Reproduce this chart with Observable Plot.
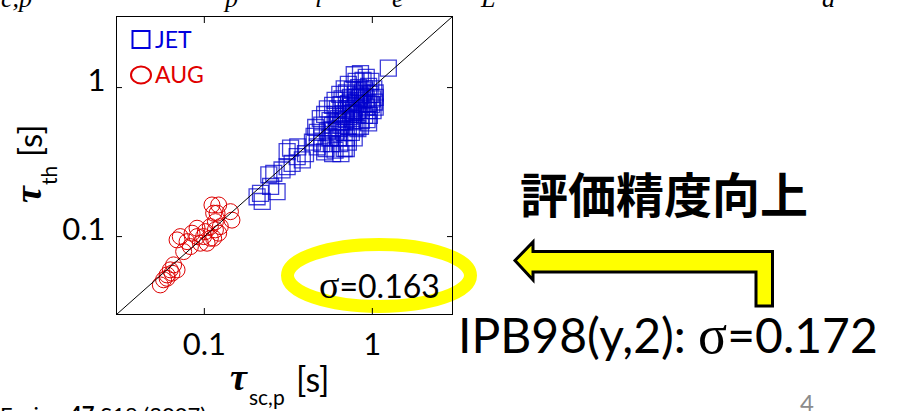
<!DOCTYPE html>
<html><head><meta charset="utf-8">
<script src="https://cdn.jsdelivr.net/npm/d3@7"></script>
<script src="https://cdn.jsdelivr.net/npm/@observablehq/plot@0.6"></script>
<style>
html,body{margin:0;padding:0;background:#fff;overflow:hidden}
#wrap{position:relative;width:901px;height:411px;overflow:hidden;font-family:Lato,sans-serif}
#wrap svg{position:absolute;left:0;top:0}
</style></head><body><div id="wrap"></div>
<script>
// ---- data (seconds) ----
const jetScaling = [0.78,0.85,0.92,0.98,0.88,0.80,0.72,0.95,1.02,0.90,0.83,0.76,0.68,1.04,0.97,0.87,0.79,0.70,0.64,1.04,1.00,0.92,0.84,0.74,0.66,0.60,1.03,0.99,0.95,0.88,0.80,0.72,0.65,0.58,0.54,0.62,0.70,0.78,0.86,0.94,1.01,1.04,0.96,0.90,0.82,0.74,0.67,0.60,0.52,0.49,0.56,0.63,0.70,0.78,0.86,0.93,0.95,0.85,0.80,0.72,0.65,0.58,0.50,0.46,0.47,0.54,0.61,0.68,0.75,0.82,0.78,0.70,0.63,0.56,0.50,0.45,0.44,0.50,0.57,0.64,0.72,0.68,0.60,0.53,0.47,0.58,0.65,0.52,0.70,0.70,0.75,0.68,0.62,0.85,0.90,0.76,0.82,0.58,0.66,0.74,0.80,0.88,0.92,0.77,0.64,
  0.206,0.221,0.216,0.248,0.271,0.242,0.259,0.29,0.311,0.333,0.326,0.357,0.383,0.311,0.36,0.40,1.245];
const jetTauTh = [1.22,1.24,1.17,1.10,1.12,1.10,1.05,1.02,0.98,0.98,1.00,0.97,0.98,0.92,0.90,0.92,0.90,0.92,0.90,0.86,0.84,0.84,0.85,0.86,0.84,0.82,0.80,0.77,0.78,0.78,0.80,0.78,0.77,0.76,0.72,0.72,0.72,0.73,0.72,0.70,0.70,0.74,0.65,0.65,0.66,0.66,0.67,0.66,0.66,0.62,0.60,0.62,0.61,0.60,0.60,0.61,0.58,0.55,0.54,0.55,0.56,0.56,0.56,0.54,0.50,0.51,0.51,0.50,0.50,0.53,0.46,0.46,0.46,0.46,0.46,0.47,0.43,0.42,0.42,0.42,0.43,0.39,0.38,0.39,0.40,0.36,0.36,0.37,0.39,0.70,0.75,0.64,0.58,0.88,0.95,0.62,0.70,0.52,0.59,0.80,0.86,0.82,0.74,0.68,0.53,
  0.185,0.172,0.195,0.217,0.200,0.26,0.266,0.28,0.295,0.31,0.392,0.344,0.327,0.372,0.40,0.36,1.35];
const augScaling = [0.1217,0.111,0.143,0.146,0.1136,0.119,0.1164,0.1086,0.1014,0.1164,0.1217,0.1245,0.0905,0.0845,0.0719,0.0688,0.0789,0.0905,0.0947,0.1038,0.1086,0.1136,0.099,0.0753,0.0826,0.0656,0.0627,0.060,0.0642,0.0688,0.0572,0.0547,0.060];
const augTauTh = [0.163,0.163,0.147,0.129,0.1436,0.1436,0.126,0.1167,0.108,0.111,0.1054,0.1167,0.1138,0.1054,0.100,0.095,0.0925,0.100,0.0903,0.0903,0.0975,0.0975,0.100,0.0793,0.0857,0.0646,0.0598,0.0553,0.0568,0.0598,0.0513,0.0474,0.0525];
const tickValues = [0.1, 1];
const tickLabels = ["0.1", "1"];
const axisDomain = [0.03, 3];
const unityLine = [0.03, 3];

const jet = jetScaling.map((x, i) => ({x, y: jetTauTh[i]}));
const aug = augScaling.map((x, i) => ({x, y: augTauTh[i]}));
const fmt = d => tickLabels[tickValues.indexOf(d)];
const blank = () => "";

const wrap = document.getElementById("wrap");

// back layer: yellow highlight ellipse
wrap.insertAdjacentHTML("beforeend", `<svg width="901" height="411">
  <ellipse cx="379" cy="275.5" rx="91.5" ry="31" fill="none" stroke="#ffff00" stroke-width="13"/>
</svg>`);

const plot = Plot.plot({
  width: 901, height: 411,
  marginLeft: 116, marginRight: 449, marginTop: 16, marginBottom: 97,
  style: {background: "transparent", fontFamily: "Lato", color: "black", overflow: "visible"},
  x: {type: "log", domain: axisDomain},
  y: {type: "log", domain: axisDomain},
  marks: [
    Plot.dot(aug, {x: "x", y: "y", r: 8, stroke: "#dd0000", strokeWidth: 1, fill: "none"}),
    Plot.dot(jet, {x: "x", y: "y", symbol: "square", r: 9, stroke: "#0000cc", strokeOpacity: 0.75, strokeWidth: 1.3, fill: "none"}),
    Plot.line(unityLine, {x: d => d, y: d => d, stroke: "black", strokeWidth: 1}),
    Plot.axisX(tickValues, {anchor: "bottom", tickSize: 0, tickPadding: 18, tickFormat: fmt, label: null, fontSize: 31}),
    Plot.axisX(tickValues, {anchor: "bottom", tickSize: -6, tickFormat: blank, label: null}),
    Plot.axisX(tickValues, {anchor: "top", tickSize: -6, tickFormat: blank, label: null}),
    Plot.axisY(tickValues, {anchor: "left", tickSize: 0, tickPadding: 11, dy: -7, tickFormat: fmt, label: null, fontSize: 31}),
    Plot.axisY(tickValues, {anchor: "left", tickSize: -6, tickFormat: blank, label: null}),
    Plot.axisY(tickValues, {anchor: "right", tickSize: -6, tickFormat: blank, label: null}),
    Plot.frame({stroke: "black"})
  ]
});
wrap.appendChild(plot);

// front layer: texts, legend, arrow
wrap.insertAdjacentHTML("beforeend", `<svg width="901" height="411">
  <g font-family="Liberation Serif" font-style="italic" font-size="26" fill="#000">
    <text x="1" y="7">c,p</text>
    <text x="225" y="7">p</text>
    <text x="315" y="7">i</text>
    <text x="392" y="7">e</text>
    <text x="481" y="7">L</text>
    <text x="822" y="7">a</text>
  </g>
  <rect x="132.5" y="31" width="17" height="17" fill="none" stroke="#0000dd" stroke-width="2"/>
  <text x="155" y="48" font-family="Lato" font-size="23" fill="#0000dd">JET</text>
  <ellipse cx="141" cy="75" rx="10" ry="8.5" fill="none" stroke="#e00000" stroke-width="2"/>
  <text x="155" y="83" font-family="Lato" font-size="23" fill="#e00000">AUG</text>
  <text x="319" y="298" font-family="Lato" font-size="32" fill="#000"><tspan font-family="Liberation Serif" font-size="38">σ</tspan>=0.163</text>
  <text x="230" y="390" font-family="Liberation Serif" font-style="italic" font-weight="bold" font-size="38" fill="#000">τ</text>
  <text x="249" y="405" font-family="Lato" font-size="21" fill="#000">sc,p</text>
  <text x="296" y="392" font-family="Lato" font-size="34" fill="#000">[s]</text>
  <g transform="translate(41,203) rotate(-90)" fill="#000">
    <text x="0" y="0" font-family="Liberation Serif" font-style="italic" font-weight="bold" font-size="38">τ</text>
    <text x="18" y="16" font-family="Lato" font-size="21">th</text>
    <text x="46" y="1" font-family="Lato" font-size="33">[s]</text>
  </g>
  <text x="520" y="213" font-family="'Noto Sans CJK JP'" font-weight="bold" font-size="48" fill="#000">評価精度向上</text>
  <path d="M515,260.5 L533,242 L533,251.5 L772.5,251.5 L772.5,306 L756,306 L756,272 L533,272 L533,280 Z" fill="#ffff00" stroke="#000" stroke-width="3" stroke-linejoin="miter"/>
  <text x="458" y="353" font-family="Lato" font-size="48" fill="#000">IPB98(y,2): <tspan font-family="Liberation Serif" font-size="54">σ</tspan>=0.172</text>
  <text x="0" y="423" font-family="Lato" font-size="22" fill="#000">Fusion <tspan font-weight="bold">47</tspan> S18 (2007)</text>
  <text x="800" y="412" font-family="Lato" font-size="24" fill="#8c8c8c">4</text>
</svg>`);
</script></body></html>
